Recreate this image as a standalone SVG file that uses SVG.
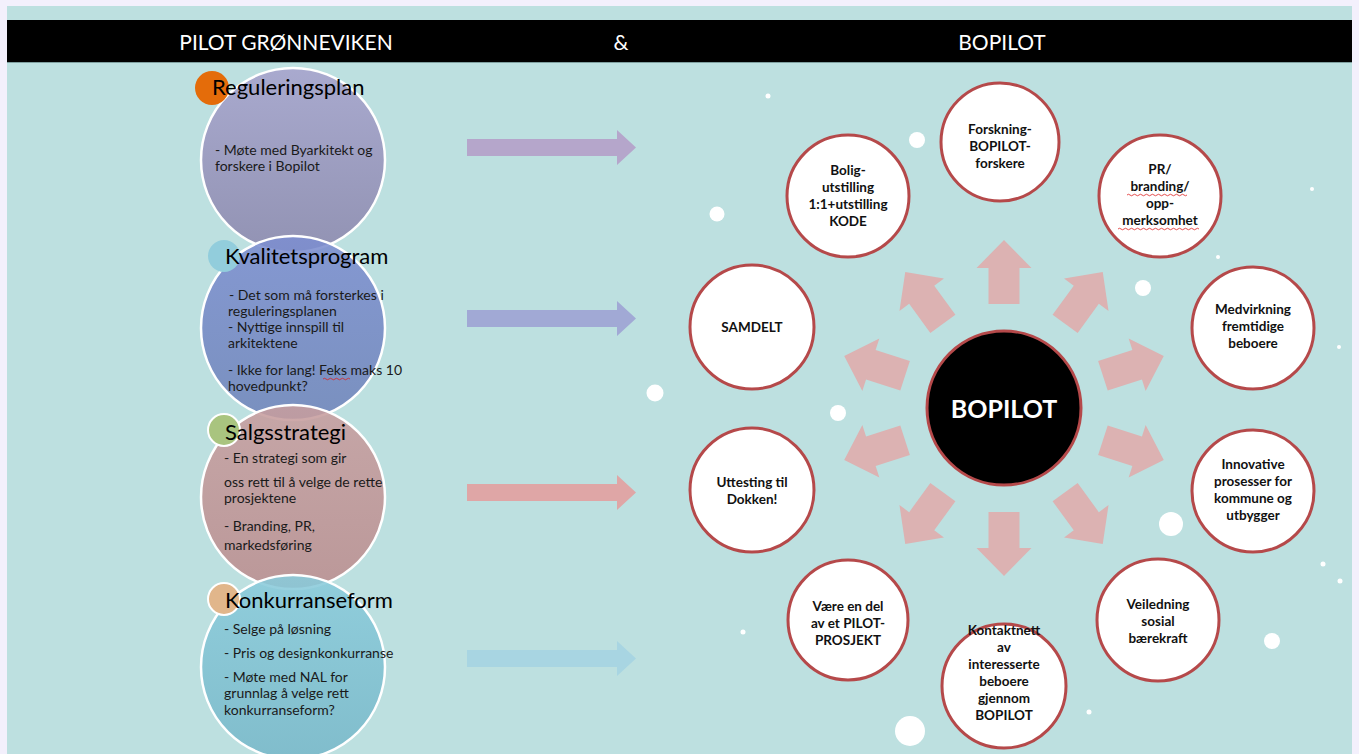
<svg xmlns="http://www.w3.org/2000/svg" width="1359" height="754" viewBox="0 0 1359 754">
<style>
.hdr{font-family:Lato,"Liberation Sans",sans-serif;font-size:21px;fill:#fff}
.ttl{font-family:Lato,"Liberation Sans",sans-serif;font-size:22px;fill:#000}
.bd{font-family:Lato,"Liberation Sans",sans-serif;font-size:14px;fill:#1a1a1a}
.nt{font-family:Lato,"Liberation Sans",sans-serif;font-size:13.5px;font-weight:bold;fill:#111;text-anchor:middle}
.node{fill:#fff;stroke:#b5494a;stroke-width:3}
.big{stroke:#fff;stroke-width:2.5;fill-opacity:0.88}
.dot{fill:#fff}
.ra{fill:#dcb2b2}
.sq{fill:none;stroke:#d22;stroke-width:0.8}
</style>
<defs>
<linearGradient id="g1" x1="0" y1="0" x2="0" y2="1"><stop offset="0" stop-color="#a6a2cc"/><stop offset="1" stop-color="#8c88ad"/></linearGradient>
<linearGradient id="g2" x1="0" y1="0" x2="0" y2="1"><stop offset="0" stop-color="#7d8ed0"/><stop offset="1" stop-color="#7085ba"/></linearGradient>
<linearGradient id="g3" x1="0" y1="0" x2="0" y2="1"><stop offset="0" stop-color="#c79e9f"/><stop offset="1" stop-color="#bb8e8f"/></linearGradient>
<linearGradient id="g4" x1="0" y1="0" x2="0" y2="1"><stop offset="0" stop-color="#8acbdb"/><stop offset="1" stop-color="#78b8c9"/></linearGradient>
<path id="rarrow" d="M104,-15.5 H140 V-27.5 L168,0 L140,27.5 V15.5 H104 Z"/>
</defs>
<rect x="0" y="0" width="1359" height="754" fill="#f3f0fc"/>
<rect x="7" y="6" width="1345" height="748" fill="#bde0e0"/>
<rect x="7" y="20" width="1345" height="42" fill="#000"/>
<line x1="7" y1="62.5" x2="1352" y2="62.5" stroke="#7fa0a0" stroke-width="1"/>
<g id="header">
<text class="hdr" x="286" y="50" text-anchor="middle">PILOT GRØNNEVIKEN</text>
<text class="hdr" x="621" y="50" text-anchor="middle">&amp;</text>
<text class="hdr" x="1002" y="50" text-anchor="middle">BOPILOT</text>
</g>
<g id="dots">
<circle class="dot" cx="768" cy="96" r="2.5"/>
<circle class="dot" cx="917" cy="140" r="8"/>
<circle class="dot" cx="717" cy="214" r="7.5"/>
<circle class="dot" cx="1312" cy="189" r="2"/>
<circle class="dot" cx="1218" cy="257" r="2"/>
<circle class="dot" cx="1143" cy="288" r="8"/>
<circle class="dot" cx="1339" cy="347" r="2"/>
<circle class="dot" cx="838" cy="413" r="8"/>
<circle class="dot" cx="655" cy="393" r="8.5"/>
<circle class="dot" cx="1171" cy="524" r="12"/>
<circle class="dot" cx="1323" cy="564" r="2.5"/>
<circle class="dot" cx="1340" cy="581" r="2.5"/>
<circle class="dot" cx="1272" cy="641" r="8"/>
<circle class="dot" cx="743" cy="632" r="2.5"/>
<circle class="dot" cx="1089" cy="712" r="2.5"/>
<circle class="dot" cx="910" cy="731" r="15"/>
</g>
<g id="reguleringsplan">
<circle class="big" cx="293" cy="160" r="92" fill="url(#g1)"/>
<circle cx="212" cy="88" r="17" fill="#e46c0a"/>
<text class="ttl" x="212" y="95">Reguleringsplan</text>
<text class="bd" x="215" y="155">- Møte med Byarkitekt og</text>
<text class="bd" x="215" y="171">forskere i Bopilot</text>
</g>
<g id="kvalitetsprogram">
<circle class="big" cx="293" cy="328" r="92" fill="url(#g2)"/>
<circle cx="224" cy="256" r="16" fill="#92cddc"/>
<text class="ttl" x="225" y="264">Kvalitetsprogram</text>
<text class="bd" x="229" y="300">- Det som må forsterkes i</text>
<text class="bd" x="228" y="316">reguleringsplanen</text>
<text class="bd" x="228" y="332">- Nyttige innspill til</text>
<text class="bd" x="228" y="348">arkitektene</text>
<text class="bd" x="228" y="375">- Ikke for lang! Feks maks 10</text>
<text class="bd" x="228" y="391">hovedpunkt?</text>
<path class="sq" d="M323,379 q1.5,-1.5 3,0 t3,0 t3,0 t3,0 t3,0 t3,0 t3,0 t3,0 t3,0"/>
</g>
<g id="salgsstrategi">
<circle class="big" cx="293" cy="497" r="92" fill="url(#g3)"/>
<circle cx="224" cy="430" r="16" fill="#a9c47f" stroke="#fff" stroke-width="2"/>
<text class="ttl" x="225" y="440">Salgsstrategi</text>
<text class="bd" x="224" y="463">- En strategi som gir</text>
<text class="bd" x="224" y="487">oss rett til å velge de rette</text>
<text class="bd" x="224" y="503">prosjektene</text>
<text class="bd" x="224" y="531">- Branding, PR,</text>
<text class="bd" x="224" y="550">markedsføring</text>
</g>
<g id="konkurranseform">
<circle class="big" cx="293" cy="667" r="92" fill="url(#g4)"/>
<circle cx="224" cy="599" r="16" fill="#e1b68b" stroke="#fff" stroke-width="2"/>
<text class="ttl" x="225" y="608">Konkurranseform</text>
<text class="bd" x="224" y="634">- Selge på løsning</text>
<text class="bd" x="224" y="658">- Pris og designkonkurranse</text>
<text class="bd" x="224" y="682">- Møte med NAL for</text>
<text class="bd" x="224" y="698">grunnlag å velge rett</text>
<text class="bd" x="224" y="715">konkurranseform?</text>
</g>
<g id="connectors">
<polygon fill="#b5a6cb" points="467,139 617,139 617,130 636,147.5 617,165 617,156 467,156"/>
<polygon fill="#a1a9d5" points="467,310 617,310 617,301 636,318.5 617,336 617,327 467,327"/>
<polygon fill="#dfa6a6" points="467,484 617,484 617,475 636,492.5 617,510 617,501 467,501"/>
<polygon fill="#a8d5e2" points="467,650 617,650 617,641 636,658.5 617,676 617,667 467,667"/>
<use href="#rarrow" class="ra" transform="translate(1004,408) rotate(-90)"/>
<use href="#rarrow" class="ra" transform="translate(1004,408) rotate(-54)"/>
<use href="#rarrow" class="ra" transform="translate(1004,408) rotate(-18)"/>
<use href="#rarrow" class="ra" transform="translate(1004,408) rotate(18)"/>
<use href="#rarrow" class="ra" transform="translate(1004,408) rotate(54)"/>
<use href="#rarrow" class="ra" transform="translate(1004,408) rotate(90)"/>
<use href="#rarrow" class="ra" transform="translate(1004,408) rotate(126)"/>
<use href="#rarrow" class="ra" transform="translate(1004,408) rotate(162)"/>
<use href="#rarrow" class="ra" transform="translate(1004,408) rotate(198)"/>
<use href="#rarrow" class="ra" transform="translate(1004,408) rotate(234)"/>
</g>
<g id="bopilot">
<circle cx="1004" cy="408" r="77" fill="#000" stroke="#b5494a" stroke-width="3"/>
<text x="1004" y="418" text-anchor="middle" font-family="Lato,'Liberation Sans',sans-serif" font-size="25" font-weight="bold" fill="#fff">BOPILOT</text>
</g>
<g id="forskning">
<circle class="node" cx="1000" cy="142" r="59"/>
<text class="nt" x="1000" y="134">Forskning-</text>
<text class="nt" x="1000" y="151">BOPILOT-</text>
<text class="nt" x="1000" y="168">forskere</text>
</g>
<g id="bolig">
<circle class="node" cx="848" cy="196" r="61"/>
<text class="nt" x="848" y="175">Bolig-</text>
<text class="nt" x="848" y="192">utstilling</text>
<text class="nt" x="848" y="209">1:1+utstilling</text>
<text class="nt" x="848" y="226">KODE</text>
</g>
<g id="pr">
<circle class="node" cx="1160" cy="196" r="61"/>
<text class="nt" x="1160" y="174">PR/</text>
<text class="nt" x="1160" y="191">branding/</text>
<text class="nt" x="1160" y="208">opp-</text>
<text class="nt" x="1160" y="225">merksomhet</text>
<path class="sq" d="M1127,195 q1.5,-1.5 3,0 t3,0 t3,0 t3,0 t3,0 t3,0 t3,0 t3,0 t3,0 t3,0 t3,0 t3,0 t3,0 t3,0 t3,0 t3,0 t3,0 t3,0 t3,0 t3,0"/>
<path class="sq" d="M1118,229 q1.5,-1.5 3,0 t3,0 t3,0 t3,0 t3,0 t3,0 t3,0 t3,0 t3,0 t3,0 t3,0 t3,0 t3,0 t3,0 t3,0 t3,0 t3,0 t3,0 t3,0 t3,0 t3,0 t3,0 t3,0 t3,0 t3,0 t3,0 t3,0"/>
</g>
<g id="medvirkning">
<circle class="node" cx="1253" cy="328" r="61"/>
<text class="nt" x="1253" y="314">Medvirkning</text>
<text class="nt" x="1253" y="331">fremtidige</text>
<text class="nt" x="1253" y="348">beboere</text>
</g>
<g id="samdelt">
<circle class="node" cx="752" cy="327" r="62"/>
<text class="nt" x="752" y="332">SAMDELT</text>
</g>
<g id="uttesting">
<circle class="node" cx="752" cy="490" r="62"/>
<text class="nt" x="752" y="487">Uttesting til</text>
<text class="nt" x="752" y="504">Dokken!</text>
</g>
<g id="innovative">
<circle class="node" cx="1253" cy="491" r="61"/>
<text class="nt" x="1253" y="469">Innovative</text>
<text class="nt" x="1253" y="486">prosesser for</text>
<text class="nt" x="1253" y="503">kommune og</text>
<text class="nt" x="1253" y="520">utbygger</text>
</g>
<g id="vaere">
<circle class="node" cx="848" cy="620" r="60"/>
<text class="nt" x="848" y="611">Være en del</text>
<text class="nt" x="848" y="628">av et PILOT-</text>
<text class="nt" x="848" y="645">PROSJEKT</text>
</g>
<g id="kontaktnett">
<circle class="node" cx="1004" cy="686" r="62"/>
<text class="nt" x="1004" y="635">Kontaktnett</text>
<text class="nt" x="1004" y="652">av</text>
<text class="nt" x="1004" y="669">interesserte</text>
<text class="nt" x="1004" y="686">beboere</text>
<text class="nt" x="1004" y="703">gjennom</text>
<text class="nt" x="1004" y="720">BOPILOT</text>
</g>
<g id="veiledning">
<circle class="node" cx="1158" cy="620" r="61"/>
<text class="nt" x="1158" y="609">Veiledning</text>
<text class="nt" x="1158" y="626">sosial</text>
<text class="nt" x="1158" y="643">bærekraft</text>
</g>
</svg>
